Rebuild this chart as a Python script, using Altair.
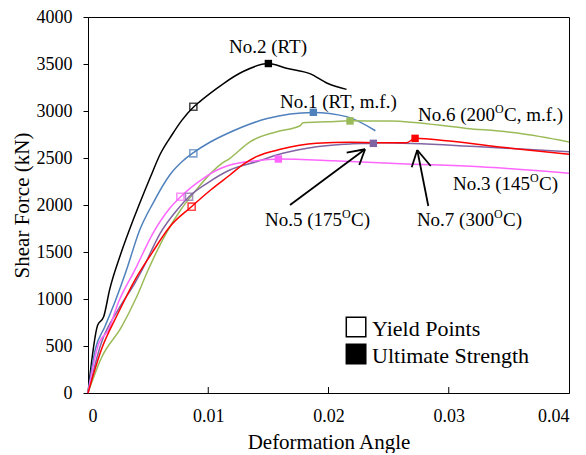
import altair as alt
import pandas as pd

FONT = "'Liberation Serif', 'Times New Roman', Times, 'DejaVu Serif', 'Noto Serif', serif"

# ---- curve data (deformation angle, shear force kN) ----
no2_x = [0, 0.0008, 0.0013, 0.0018, 0.0027, 0.0034, 0.0043, 0.0052, 0.0060, 0.0070, 0.0078, 0.0088, 0.0093, 0.0106, 0.0113, 0.0129, 0.0150, 0.0165, 0.0185, 0.0199, 0.0215]
no2_y = [0, 720, 810, 1100, 1470, 1720, 2018, 2300, 2540, 2750, 2900, 3045, 3100, 3230, 3295, 3420, 3505, 3455, 3395, 3295, 3230]

no1_x = [0, 0.0006, 0.0014, 0.0023, 0.0032, 0.0043, 0.0054, 0.0068, 0.0079, 0.0088, 0.0101, 0.0115, 0.0149, 0.0187, 0.0215, 0.0239]
no1_y = [0, 460, 705, 990, 1309, 1734, 2018, 2319, 2470, 2560, 2665, 2755, 2920, 2985, 2940, 2790]

no6_x = [0, 0.0011, 0.0028, 0.0040, 0.0050, 0.0065, 0.0077, 0.0090, 0.0100, 0.0110, 0.0118, 0.0135, 0.0157, 0.0176, 0.0179, 0.0199, 0.0218, 0.0251, 0.0315, 0.0357, 0.0400]
no6_y = [0, 370, 705, 1010, 1309, 1699, 1947, 2160, 2310, 2430, 2497, 2675, 2780, 2840, 2875, 2885, 2895, 2894, 2815, 2765, 2670]

no5_x = [0, 0.0011, 0.0025, 0.0039, 0.0045, 0.0060, 0.0074, 0.0084, 0.0099, 0.0118, 0.0140, 0.0162, 0.0190, 0.0218, 0.0237, 0.0243, 0.0326, 0.0400]
no5_y = [0, 530, 885, 1170, 1309, 1699, 1947, 2088, 2231, 2372, 2460, 2550, 2620, 2650, 2656, 2663, 2620, 2567]

no3_x = [0, 0.0009, 0.0017, 0.0025, 0.0039, 0.0054, 0.0068, 0.0077, 0.0096, 0.0107, 0.0118, 0.0140, 0.0158, 0.0204, 0.0260, 0.0326, 0.0400]
no3_y = [0, 530, 670, 955, 1309, 1699, 1965, 2088, 2284, 2370, 2426, 2472, 2489, 2472, 2440, 2407, 2337]

no7_x = [0, 0.0011, 0.0025, 0.0039, 0.0053, 0.0068, 0.0086, 0.0102, 0.0118, 0.0130, 0.0140, 0.0160, 0.0190, 0.0218, 0.0243, 0.0265, 0.0272, 0.0298, 0.0340, 0.0400]
no7_y = [0, 457, 848, 1202, 1486, 1769, 1982, 2160, 2319, 2440, 2514, 2592, 2656, 2667, 2663, 2663, 2709, 2684, 2620, 2539]

series = ["No.2", "No.1", "No.6", "No.5", "No.3", "No.7"]
colors = ["#000000", "#4F81BD", "#9BBB59", "#8064A2", "#FF66FF", "#FF0000"]
widths = [1.5, 1.5, 1.5, 1.5, 1.5, 2.2]
curves_x = [no2_x, no1_x, no6_x, no5_x, no3_x, no7_x]
curves_y = [no2_y, no1_y, no6_y, no5_y, no3_y, no7_y]

# yield points (hollow) and ultimate strength (filled)
yield_series = ["No.2", "No.1", "No.3", "No.5", "No.7"]
yield_x = [0.00876, 0.00876, 0.00768, 0.0084, 0.00862]
yield_y = [3045, 2550, 2088, 2088, 1982]

ult_series = ["No.2", "No.1", "No.6", "No.3", "No.5", "No.7"]
ult_x = [0.0150, 0.01874, 0.02179, 0.01583, 0.02373, 0.0272]
ult_y = [3505, 2986, 2894, 2489, 2656, 2709]

# annotations
center_text = ["No.2 (RT)"]
center_x = [0.01497]
center_y = [3617]
left_text = ["No.1 (RT, m.f.)"]
left_x = [0.01597]
left_y = [3032]

sup_pre = ["No.6 (200", "No.3 (145", "No.7 (300", "No.5 (175"]
sup_post = ["C, m.f.)", "C)", "C)", "C)"]
sup_x = [0.03385, 0.03676, 0.03376, 0.02112]
sup_y = [2894, 2160, 1777, 1777]

# arrows (x, y, x2, y2)
arrow_x = [0.0168, 0.02304, 0.02304, 0.0283, 0.02738, 0.02738]
arrow_y = [2000, 2593, 2593, 1989, 2585, 2585]
arrow_x2 = [0.02304, 0.02151, 0.02256, 0.02738, 0.02692, 0.0285]
arrow_y2 = [2593, 2556, 2426, 2585, 2401, 2415]

# legend
legend_labels = ["Yield Points", "Ultimate Strength"]
legend_sym_x = 0.02229
legend_sym_y = [702, 415]
legend_txt_x = 0.02362
legend_txt_y = [606, 319]

x_ticks = [0, 0.01, 0.02, 0.03, 0.04]
y_ticks = [0, 500, 1000, 1500, 2000, 2500, 3000, 3500, 4000]

# ---- build tables ----
rows = []
for s, xs_, ys_ in zip(series, curves_x, curves_y):
    for i, (a, b) in enumerate(zip(xs_, ys_)):
        rows.append({"series": s, "x": a, "y": b, "i": i})
curve_df = pd.DataFrame(rows)
yield_df = pd.DataFrame({"series": yield_series, "x": yield_x, "y": yield_y})
ult_df = pd.DataFrame({"series": ult_series, "x": ult_x, "y": ult_y})
center_df = pd.DataFrame({"t": center_text, "x": center_x, "y": center_y})
left_df = pd.DataFrame({"t": left_text, "x": left_x, "y": left_y})
sup_df = pd.DataFrame({"pre": sup_pre, "post": sup_post, "x": sup_x, "y": sup_y, "o": ["O"] * 4})
arrow_df = pd.DataFrame({"x": arrow_x, "y": arrow_y, "x2": arrow_x2, "y2": arrow_y2})
leg_df = pd.DataFrame({"label": legend_labels, "sx": [legend_sym_x] * 2, "sy": legend_sym_y,
                       "tx": [legend_txt_x] * 2, "ty": legend_txt_y, "fill": ["white", "black"]})
tick_df = pd.DataFrame({"x": x_ticks[1:-1]})

xs = alt.Scale(domain=[0, 0.04], nice=False)
ys = alt.Scale(domain=[0, 4000], nice=False)
col = alt.Color("series:N", scale=alt.Scale(domain=series, range=colors), legend=None)

X = alt.X("x:Q", scale=xs, axis=alt.Axis(values=x_ticks, format="~g", tickSize=0, labelPadding=14,
                                         title="Deformation Angle", titlePadding=6, grid=False))
Y = alt.Y("y:Q", scale=ys, axis=alt.Axis(values=y_ticks, format="d", tickSize=5, labelPadding=11,
                                         title="Shear Force (kN)", titlePadding=4, grid=False))

lines = alt.Chart(curve_df).mark_line(interpolate="monotone").encode(
    x=X, y=Y, color=col, order="i:Q",
    strokeWidth=alt.StrokeWidth("series:N", scale=alt.Scale(domain=series, range=widths), legend=None),
    detail="series:N",
)

ymark = alt.Chart(yield_df).mark_square(filled=False, size=50, strokeWidth=1.6).encode(
    x="x:Q", y="y:Q", color=col)
umark = alt.Chart(ult_df).mark_square(filled=True, size=55, opacity=1).encode(
    x="x:Q", y="y:Q", color=col)

ptext_c = alt.Chart(center_df).mark_text(
    font=FONT, fontSize=19, baseline="alphabetic", align="center", color="black").encode(
    x="x:Q", y="y:Q", text="t:N")
ptext_l = alt.Chart(left_df).mark_text(
    font=FONT, fontSize=19, baseline="alphabetic", align="left", color="black").encode(
    x="x:Q", y="y:Q", text="t:N")

pre_t = alt.Chart(sup_df).mark_text(font=FONT, fontSize=19, baseline="alphabetic", align="right",
                                    color="black").encode(x="x:Q", y="y:Q", text="pre:N")
o_t = alt.Chart(sup_df).mark_text(font=FONT, fontSize=12, baseline="alphabetic", align="left",
                                  dy=-8, color="black").encode(x="x:Q", y="y:Q", text="o:N")
post_t = alt.Chart(sup_df).mark_text(font=FONT, fontSize=19, baseline="alphabetic", align="left",
                                     dx=9, color="black").encode(x="x:Q", y="y:Q", text="post:N")

arrows = alt.Chart(arrow_df).mark_rule(color="black", strokeWidth=1.8).encode(
    x="x:Q", y="y:Q", x2="x2:Q", y2="y2:Q")

xticks_in = alt.Chart(tick_df).mark_rule(color="black", strokeWidth=1).encode(
    x="x:Q", y=alt.value(376), y2=alt.value(370))

leg_sym = alt.Chart(leg_df).mark_square(size=380, stroke="black", strokeWidth=1.5, opacity=1).encode(
    x="sx:Q", y="sy:Q", fill=alt.Fill("fill:N", scale=None))
leg_txt = alt.Chart(leg_df).mark_text(font=FONT, fontSize=22, baseline="alphabetic", align="left",
                                      color="black").encode(x="tx:Q", y="ty:Q", text="label:N")

chart = alt.layer(
    lines, ymark, umark, ptext_c, ptext_l, pre_t, o_t, post_t, arrows, xticks_in, leg_sym, leg_txt
).properties(
    width=481, height=376,
    background="white",
    autosize=alt.AutoSizeParams(type="none"),
    padding={"left": 80, "top": 9, "right": 9, "bottom": 60},
).configure_view(
    stroke="black", strokeWidth=1
).configure_axis(
    labelFont=FONT, titleFont=FONT, labelFontSize=18, titleFontSize=21,
    titleFontWeight="normal", labelColor="black", titleColor="black",
    domainColor="black", tickColor="black", domainWidth=1,
)

chart.save("out.html", embed_options={"renderer": "svg", "actions": False})
